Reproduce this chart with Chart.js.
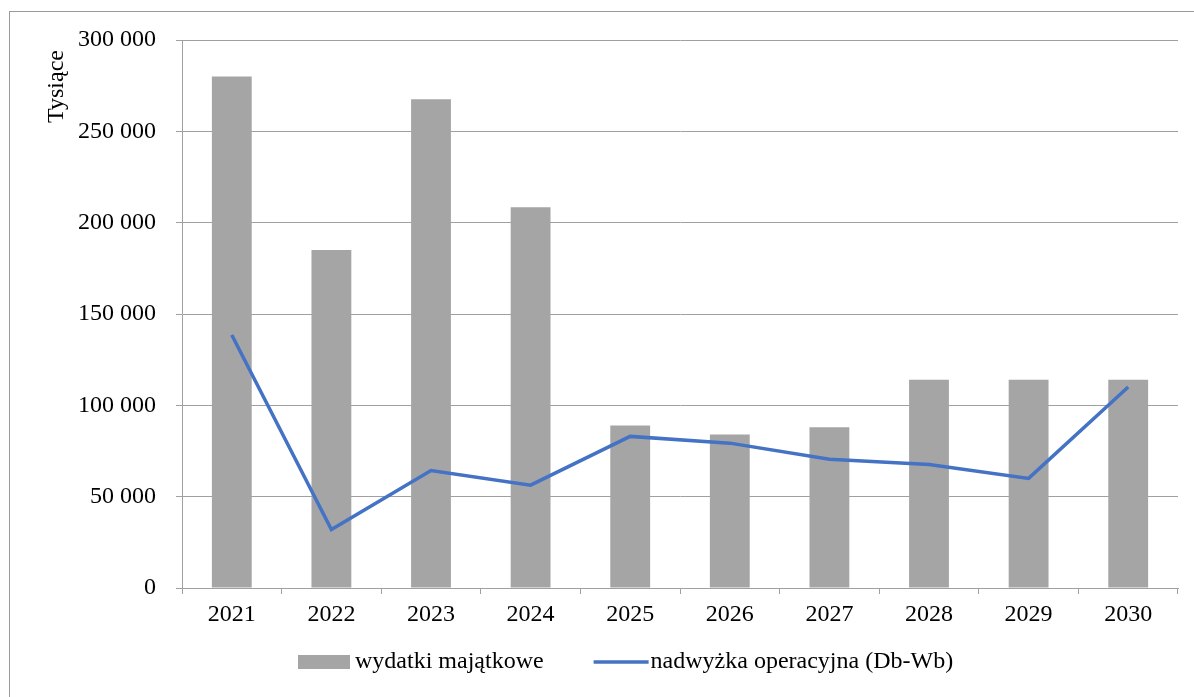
<!DOCTYPE html>
<html>
<head>
<meta charset="utf-8">
<script src="https://cdn.jsdelivr.net/npm/chart.js@4"></script>
<style>
  html, body { margin: 0; padding: 0; background: #fff; }
  #frame {
    position: absolute; left: 9px; top: 11px;
    width: 1185px; height: 686px; box-sizing: border-box;
    border-top: 1px solid #9a9a9a; border-left: 1px solid #9a9a9a;
  }
  #chart { display: block; }
</style>
</head>
<body>
<div id="frame"><canvas id="chart"></canvas></div>
<script>
/* Data (values in thousands) */
let years = ['2021', '2022', '2023', '2024', '2025', '2026', '2027', '2028', '2029', '2030']
let wydatkiMajatkowe = [280000, 185000, 267500, 208500, 89000, 84000, 88000, 114000, 114000, 114000]
let nadwyzkaOperacyjna = [138500, 32000, 64300, 56300, 83000, 79300, 70500, 67600, 60000, 110000]
let yTicks = [0, 50000, 100000, 150000, 200000, 250000, 300000]
let yTitle = 'Tysiące'

let font = { family: "'Liberation Serif', 'Times New Roman', serif", size: 24 }
let gridGray = '#a0a0a0'

// "300 000" style -- space as thousands separator
function formatNumber(v) {
    return String(v).replace(/\B(?=(\d{3})+(?!\d))/g, ' ')
}

/* Unit label, rotated, sitting just under the top of the value axis */
let unitLabel = {
    id: 'unitLabel',
    afterDraw: function(chart) {
        let c = chart.ctx
        c.save()
        c.font = font.size + 'px ' + font.family
        c.fillStyle = '#000'
        c.textAlign = 'right'
        c.textBaseline = 'middle'
        c.translate(47, chart.chartArea.top + 10)
        c.rotate(-Math.PI / 2)
        c.fillText(yTitle, 0, 0)
        c.restore()
    }
}

/* Legend drawn by hand: Excel style, marker right next to the text */
let bottomLegend = {
    id: 'bottomLegend',
    afterDraw: function(chart) {
        let c = chart.ctx
        let sets = [chart.data.datasets[1], chart.data.datasets[0]]  // bar first
        let boxW = [52, 55]
        let textGap = [5, 2]
        let itemGap = 50
        let x = 288
        let y = 650

        c.save()
        c.font = font.size + 'px ' + font.family
        c.textBaseline = 'middle'

        sets.forEach(function(ds, i) {
            if (ds.type === 'bar') {
                c.fillStyle = ds.backgroundColor
                c.fillRect(x, y - 7, boxW[i], 14)
            } else {
                c.strokeStyle = ds.borderColor
                c.lineWidth = ds.borderWidth
                c.beginPath()
                c.moveTo(x, y)
                c.lineTo(x + boxW[i], y)
                c.stroke()
            }
            x += boxW[i] + textGap[i]
            c.fillStyle = '#000'
            c.fillText(ds.label, x, y)
            x += c.measureText(ds.label).width + itemGap
        })
        c.restore()
    }
}

let ctx = document.querySelector('#chart').getContext('2d')

new Chart(ctx, {
    data: {
        labels: years,
        datasets: [
            {
                type: 'line',
                label: 'nadwyżka operacyjna (Db-Wb)',
                data: nadwyzkaOperacyjna,
                borderColor: '#4472c4',
                backgroundColor: '#4472c4',
                borderWidth: 3.5,
                pointRadius: 0,
                tension: 0,
                order: 0
            },
            {
                type: 'bar',
                label: 'wydatki majątkowe',
                data: wydatkiMajatkowe,
                backgroundColor: '#a5a5a5',
                categoryPercentage: 1,
                barPercentage: 0.4,
                order: 1
            }
        ]
    },
    plugins: [unitLabel, bottomLegend],
    options: {
        responsive: true,
        maintainAspectRatio: false,
        animation: false,
        layout: { padding: { top: 28, right: 16, left: 0, bottom: 0 } },
        plugins: {
            tooltip: { enabled: false },
            legend: { display: false }
        },
        scales: {
            x: {
                grid: {
                    offset: true,
                    drawOnChartArea: false,
                    drawTicks: true,
                    tickLength: 6,
                    color: gridGray
                },
                border: { color: gridGray },
                ticks: { font: font, color: '#000', padding: 6, maxRotation: 0 },
                afterFit: function(scale) { scale.height = 109 }
            },
            y: {
                min: 0,
                max: 300000,
                afterBuildTicks: function(scale) {
                    scale.ticks = yTicks.map(function(v) { return { value: v } })
                },
                grid: { color: gridGray, tickLength: 6 },
                border: { color: gridGray },
                ticks: {
                    font: font,
                    color: '#000',
                    padding: 20,
                    callback: function(value) { return formatNumber(value) }
                },
                afterFit: function(scale) {
                    scale.width = 172
                    scale.paddingTop = 0  // label padding would push the plot down
                }
            }
        }
    }
})
</script>
</body>
</html>
